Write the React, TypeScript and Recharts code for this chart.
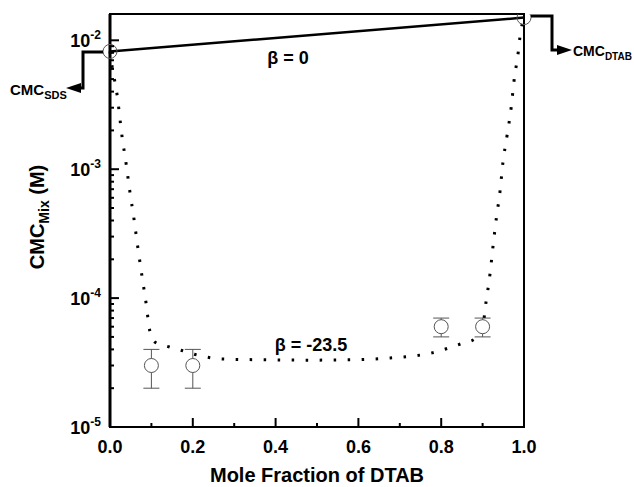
import { ComposedChart, ErrorBar, Line, ReferenceArea, Scatter, XAxis, YAxis } from 'recharts';

const FONT = '"Liberation Sans", Arial, Helvetica, sans-serif';

// tick values
const xTicks = [0, 0.1, 0.2, 0.3, 0.4, 0.5, 0.6, 0.7, 0.8, 0.9, 1.0];
const yTicks = [
  0.00001, 0.00002, 0.00003, 0.00004, 0.00005, 0.00006, 0.00007, 0.00008, 0.00009,
  0.0001, 0.0002, 0.0003, 0.0004, 0.0005, 0.0006, 0.0007, 0.0008, 0.0009,
  0.001, 0.002, 0.003, 0.004, 0.005, 0.006, 0.007, 0.008, 0.009,
  0.01,
];

// pure surfactant CMCs (SDS at x=0, DTAB at x=1), joined by the beta = 0 line
const pureCmc = [
  { x: 0, y: 0.0082 },
  { x: 1, y: 0.015 },
];

// measured mixed CMCs with error bars
const measured = [
  { x: 0.1, y: 0.00003, err: 0.00001 },
  { x: 0.2, y: 0.00003, err: 0.00001 },
  { x: 0.8, y: 0.00006, err: 0.00001 },
  { x: 0.9, y: 0.00006, err: 0.00001 },
];

// beta = -23.5 curve
const betaCurve = [
  { x: 0, y: 0.0082 },
  { x: 0.005, y: 0.0063 },
  { x: 0.017, y: 0.0038 },
  { x: 0.029, y: 0.0018 },
  { x: 0.039, y: 0.0011 },
  { x: 0.048, y: 0.00067 },
  { x: 0.058, y: 0.00041 },
  { x: 0.067, y: 0.00025 },
  { x: 0.077, y: 0.00015 },
  { x: 0.087, y: 0.000092 },
  { x: 0.096, y: 0.000056 },
  { x: 0.108, y: 0.0000457 },
  { x: 0.142, y: 0.0000419 },
  { x: 0.176, y: 0.000039 },
  { x: 0.21, y: 0.0000362 },
  { x: 0.272, y: 0.0000337 },
  { x: 0.378, y: 0.0000332 },
  { x: 0.475, y: 0.000033 },
  { x: 0.576, y: 0.0000332 },
  { x: 0.677, y: 0.0000343 },
  { x: 0.778, y: 0.0000376 },
  { x: 0.848, y: 0.0000442 },
  { x: 0.882, y: 0.0000483 },
  { x: 0.899, y: 0.0000567 },
  { x: 0.908, y: 0.0000918 },
  { x: 0.918, y: 0.000155 },
  { x: 0.925, y: 0.00025 },
  { x: 0.933, y: 0.000413 },
  { x: 0.942, y: 0.00067 },
  { x: 0.949, y: 0.00112 },
  { x: 0.959, y: 0.00182 },
  { x: 0.969, y: 0.00301 },
  { x: 0.976, y: 0.00488 },
  { x: 0.986, y: 0.00805 },
  { x: 0.99, y: 0.0105 },
  { x: 1, y: 0.015 },
];

const XTick = ({ x, y, payload }: any) => {
  const v = payload.value as number;
  const major = Math.round(v * 10) % 2 === 0;
  return (
    <g>
      <line x1={x} x2={x} y1={y} y2={y - (major ? 9 : 4)} stroke="#000" strokeWidth={2} />
      {major && (
        <text x={x} y={y + 26} textAnchor="middle" fontFamily={FONT} fontWeight="bold" fontSize={18} fill="#000">
          {v.toFixed(1)}
        </text>
      )}
    </g>
  );
};

const YTick = ({ x, y, payload }: any) => {
  const lg = Math.log10(payload.value);
  const major = Math.abs(lg - Math.round(lg)) < 1e-6;
  return (
    <g>
      <line x1={x} x2={x + (major ? 9 : 4)} y1={y} y2={y} stroke="#000" strokeWidth={2} />
      {major && (
        <text x={x - 9} y={y + 6.5} textAnchor="end" fontFamily={FONT} fontWeight="bold" fontSize={18} fill="#000">
          10
          <tspan dy={-8} fontSize={12}>
            {String(Math.round(lg))}
          </tspan>
        </text>
      )}
    </g>
  );
};

const openCircle = (fill: string) => (props: any) => (
  <circle cx={props.cx} cy={props.cy} r={7} fill={fill} stroke="#555" strokeWidth={1} />
);

export default function App() {
  return (
    <div style={{ position: 'fixed', left: 0, top: 0, width: 634, height: 487, background: '#fff' }}>
      <ComposedChart width={634} height={487} margin={{ top: 14, right: 110, bottom: 0, left: 0 }}>
        <XAxis
          type="number"
          dataKey="x"
          domain={[0, 1]}
          ticks={xTicks}
          interval={0}
          height={60}
          tickSize={0}
          tickMargin={0}
          tickLine={false}
          axisLine={{ stroke: '#000', strokeWidth: 2 }}
          tick={<XTick />}
          label={{
            content: ({ viewBox }: any) => (
              <text
                x={viewBox.x + viewBox.width / 2}
                y={viewBox.y + 55}
                textAnchor="middle"
                fontFamily={FONT}
                fontWeight="bold"
                fontSize={20}
                fill="#000"
              >
                Mole Fraction of DTAB
              </text>
            ),
          }}
        />
        <YAxis
          type="number"
          scale="log"
          domain={[0.00001, 0.016]}
          allowDataOverflow
          ticks={yTicks}
          interval={0}
          width={110}
          tickSize={0}
          tickMargin={0}
          tickLine={false}
          axisLine={{ stroke: '#000', strokeWidth: 3 }}
          tick={<YTick />}
          label={{
            content: ({ viewBox }: any) => {
              const cx = viewBox.x + 44;
              const cy = viewBox.y + 203;
              return (
                <text
                  x={cx}
                  y={cy}
                  transform={`rotate(-90 ${cx} ${cy})`}
                  textAnchor="middle"
                  fontFamily={FONT}
                  fontWeight="bold"
                  fontSize={20}
                  fill="#000"
                >
                  CMC
                  <tspan fontSize={14} dy={5}>
                    Mix
                  </tspan>
                  <tspan dy={-5}> (M)</tspan>
                </text>
              );
            },
          }}
        />
        <ReferenceArea
          x1={0}
          x2={1}
          y1={0.00001}
          y2={0.016}
          fill="none"
          stroke="#000"
          strokeWidth={2}
          ifOverflow="visible"
        />
        <Scatter data={measured} dataKey="y" shape={openCircle('#fff')} isAnimationActive={false}>
          <ErrorBar dataKey="err" direction="y" width={8} stroke="#555" strokeWidth={1} />
        </Scatter>
        <Line
          data={pureCmc}
          dataKey="y"
          type="linear"
          stroke="#000"
          strokeWidth={2.5}
          dot={false}
          activeDot={false}
          isAnimationActive={false}
        />
        <Line
          data={betaCurve}
          dataKey="y"
          type="monotone"
          stroke="#000"
          strokeWidth={3}
          strokeDasharray="2.5 11.5"
          dot={false}
          activeDot={false}
          isAnimationActive={false}
        />
        <Scatter data={pureCmc} dataKey="y" shape={openCircle('none')} isAnimationActive={false} />
      </ComposedChart>
      <svg
        width={634}
        height={487}
        style={{ position: 'absolute', left: 0, top: 0, pointerEvents: 'none' }}
        fontFamily={FONT}
        fontWeight="bold"
      >
        <polyline points="103,52 83,52 83,88 78,88" fill="none" stroke="#000" strokeWidth={3} />
        <polygon points="66,88 81,83 81,93" fill="#000" />
        <text x={10} y={95} fontSize={15}>
          CMC<tspan fontSize={11} dy={4}>SDS</tspan>
        </text>
        <polyline points="531,16 552,16 552,50 558,50" fill="none" stroke="#000" strokeWidth={3} />
        <polygon points="572,50 557,45 557,55" fill="#000" />
        <text x={573} y={56} fontSize={14}>
          CMC<tspan fontSize={10} dy={4}>DTAB</tspan>
        </text>
        <text x={288} y={64} textAnchor="middle" fontSize={18}>
          β = 0
        </text>
        <text x={311} y={351} textAnchor="middle" fontSize={18}>
          β = -23.5
        </text>
      </svg>
    </div>
  );
}
